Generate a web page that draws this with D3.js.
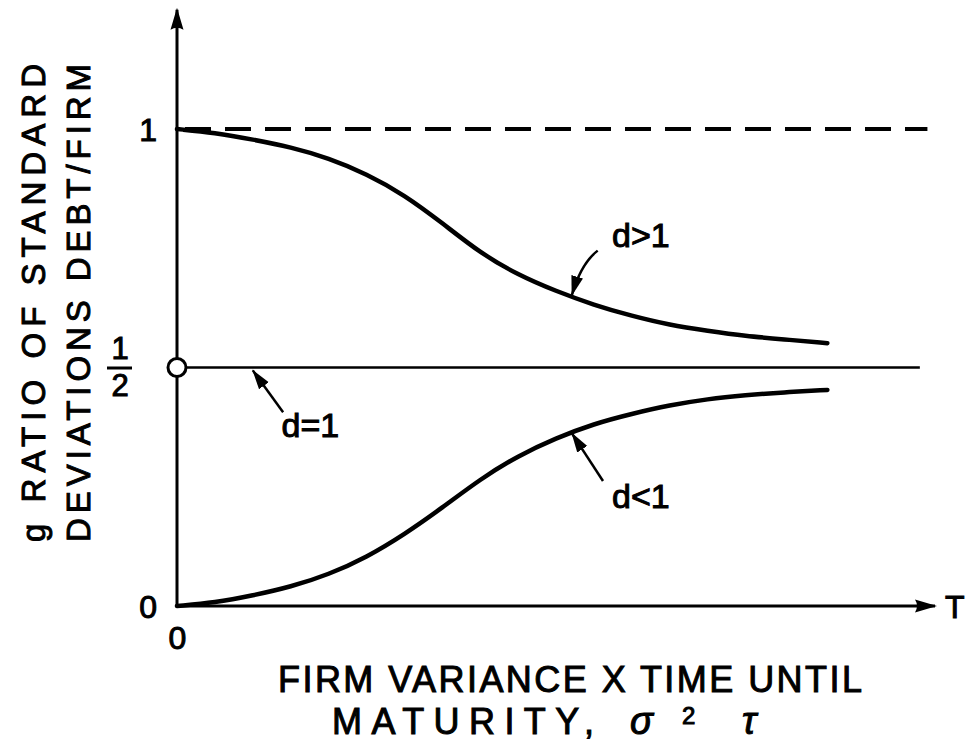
<!DOCTYPE html>
<html>
<head>
<meta charset="utf-8">
<script src="https://cdn.jsdelivr.net/npm/d3@7"></script>
<style>
body { margin: 0; background: #fff; }
text { font-family: "Liberation Sans", Arial, sans-serif; fill: #000; }
</style>
</head>
<body>
<div id="chart"></div>
<script>
// whole svg
const SVG_WIDTH = 970;
const SVG_HEIGHT = 745;
const TEXT_STROKE = 1;

// data (T in arbitrary units, g = ratio of standard deviations)
const tValues = [0, 0.5, 1, 1.5, 2, 2.5, 3, 3.5, 4, 4.5, 5, 5.5, 6, 6.5, 7, 7.5, 8, 8.58];
const gAbove  = [1.000, 0.992, 0.978, 0.962, 0.939, 0.906, 0.862, 0.803, 0.740, 0.694, 0.660, 0.631, 0.608, 0.589, 0.577, 0.566, 0.559, 0.551]; // d>1
const gBelow  = [0.000, 0.007, 0.022, 0.040, 0.066, 0.102, 0.150, 0.206, 0.266, 0.315, 0.352, 0.382, 0.403, 0.421, 0.434, 0.442, 0.448, 0.453]; // d<1
const gEqual = 0.5;      // d=1
const gLimit = 1;        // dashed asymptote
const yTicks = [0, 0.5, 1];
const xTicks = [0];
const yTitle = ['g RATIO OF STANDARD', 'DEVIATIONS DEBT/FIRM'];
const xTitle = ['FIRM VARIANCE X TIME UNTIL', 'MATURITY,', 'σ', '2', 'τ'];
const axisEndLabel = 'T';
const curveNames = ['d>1', 'd=1', 'd<1'];

// annotation anchors in data units: label, arrow tail, arrow tip
const notes = [
    {name: curveNames[0], label: [5.74, 0.752], tail: [5.55, 0.745], bend: [5.33, 0.718], tip: [5.21, 0.652]},
    {name: curveNames[1], label: [1.38, 0.354], tail: [1.40, 0.406], bend: null,          tip: [1.00, 0.494]},
    {name: curveNames[2], label: [5.74, 0.205], tail: [5.62, 0.262], bend: null,          tip: [5.21, 0.362]},
];

// scales
const x = d3.scaleLinear().domain([0, 10]).range([177, 935]);
const y = d3.scaleLinear().domain([0, 1]).range([606, 129]);

const svg = d3.select('#chart')
    .append('svg')
    .attr('width', SVG_WIDTH)
    .attr('height', SVG_HEIGHT)
;

// arrow heads
const defs = svg.append('defs');
defs.append('marker')
    .attr('id', 'head_big')
    .attr('markerUnits', 'userSpaceOnUse')
    .attr('viewBox', '0 0 22 14')
    .attr('refX', 20).attr('refY', 7)
    .attr('markerWidth', 22).attr('markerHeight', 14)
    .attr('orient', 'auto')
    .append('path')
    .attr('d', 'M0,0.5 L22,7 L0,13.5 Q4,7 0,0.5 Z')
    .attr('fill', '#000')
;
defs.append('marker')
    .attr('id', 'head_small')
    .attr('markerUnits', 'userSpaceOnUse')
    .attr('viewBox', '0 0 20 13')
    .attr('refX', 19).attr('refY', 6.5)
    .attr('markerWidth', 20).attr('markerHeight', 13)
    .attr('orient', 'auto')
    .append('path')
    .attr('d', 'M0,0.5 L20,6.5 L0,12.5 Z')
    .attr('fill', '#000')
;

// axes lines with arrows
svg.append('line')
    .attr('x1', x(0)).attr('y1', y(0))
    .attr('x2', x(0)).attr('y2', y(1.25))
    .attr('stroke', '#000').attr('stroke-width', 3)
    .attr('marker-end', 'url(#head_big)')
;
svg.append('line')
    .attr('x1', x(0)).attr('y1', y(0))
    .attr('x2', x(10)).attr('y2', y(0))
    .attr('stroke', '#000').attr('stroke-width', 3)
    .attr('marker-end', 'url(#head_big)')
;

// y ticks (labels only)
const yAxis = svg.append('g')
    .attr('transform', `translate(${x(0) - 20},0)`)
    .call(d3.axisLeft(y).tickValues(yTicks).tickSize(0).tickPadding(0).tickFormat(d => d === 0.5 ? '' : d3.format('d')(d)))
;
yAxis.select('.domain').remove();
yAxis.selectAll('text')
    .attr('font-size', 32)
    .attr('font-family', '"Liberation Sans", Arial, sans-serif')
    .attr('fill', '#000')
    .attr('stroke', '#000').attr('stroke-width', TEXT_STROKE)
    .attr('dy', '0.36em')
;
// 1/2 as a stacked fraction
const half = yAxis.selectAll('.tick').filter(d => d === 0.5);
half.append('line')
    .attr('x1', -50).attr('x2', -25)
    .attr('y1', 0).attr('y2', 0)
    .attr('stroke', '#000').attr('stroke-width', 3)
;
half.append('text').text('1')
    .attr('x', -37).attr('y', -9)
    .attr('text-anchor', 'middle')
    .attr('font-size', 31).attr('stroke', '#000').attr('stroke-width', TEXT_STROKE)
;
half.append('text').text('2')
    .attr('x', -37).attr('y', 28)
    .attr('text-anchor', 'middle')
    .attr('font-size', 31).attr('stroke', '#000').attr('stroke-width', TEXT_STROKE)
;

// x tick label
const xAxis = svg.append('g')
    .attr('transform', `translate(0,${y(0) + 18})`)
    .call(d3.axisBottom(x).tickValues(xTicks).tickSize(0).tickPadding(0).tickFormat(d3.format('d')))
;
xAxis.select('.domain').remove();
xAxis.selectAll('text')
    .attr('font-size', 32)
    .attr('font-family', '"Liberation Sans", Arial, sans-serif')
    .attr('fill', '#000')
    .attr('stroke', '#000').attr('stroke-width', TEXT_STROKE)
    .attr('dy', '0.78em')
;

// T at end of x axis
svg.append('text')
    .text(axisEndLabel)
    .attr('x', x(10) + 10).attr('y', y(0) + 12)
    .attr('font-size', 32).attr('stroke', '#000').attr('stroke-width', TEXT_STROKE)
;

// dashed asymptote
svg.append('line')
    .attr('x1', x(0)).attr('x2', x(9.9))
    .attr('y1', y(gLimit)).attr('y2', y(gLimit))
    .attr('stroke', '#000').attr('stroke-width', 4)
    .attr('stroke-dasharray', '26,14')
    .attr('stroke-dashoffset', -8)
;

// d=1 line
svg.append('line')
    .attr('x1', x(0)).attr('x2', x(9.8))
    .attr('y1', y(gEqual)).attr('y2', y(gEqual))
    .attr('stroke', '#000').attr('stroke-width', 2.5)
;

// curves
const line = d3.line()
    .x(d => x(d[0]))
    .y(d => y(d[1]))
    .curve(d3.curveBasis)
;
[gAbove, gBelow].forEach(series => {
    svg.append('path')
        .datum(tValues.map((t, i) => [t, series[i]]))
        .attr('d', line)
        .attr('fill', 'none')
        .attr('stroke', '#000')
        .attr('stroke-width', 4.5)
        .attr('stroke-linecap', 'round')
    ;
});

// open circle at g = 1/2
svg.append('circle')
    .attr('cx', x(0)).attr('cy', y(gEqual))
    .attr('r', 9)
    .attr('fill', '#fff')
    .attr('stroke', '#000').attr('stroke-width', 3)
;

// annotations
notes.forEach(n => {
    const p = d3.path();
    p.moveTo(x(n.tail[0]), y(n.tail[1]));
    if (n.bend) {
        p.quadraticCurveTo(x(n.bend[0]), y(n.bend[1]), x(n.tip[0]), y(n.tip[1]));
    } else {
        p.lineTo(x(n.tip[0]), y(n.tip[1]));
    }
    svg.append('path')
        .attr('d', p.toString())
        .attr('fill', 'none')
        .attr('stroke', '#000').attr('stroke-width', 2.5)
        .attr('marker-end', 'url(#head_small)')
    ;
    svg.append('text')
        .text(n.name)
        .attr('x', x(n.label[0])).attr('y', y(n.label[1]))
        .attr('font-size', 34)
        .attr('stroke', '#000').attr('stroke-width', TEXT_STROKE)
    ;
});

// y title (rotated, two lines)
const yTitleG = svg.append('g')
    .attr('transform', 'translate(0,303) rotate(-90)');
yTitle.forEach((s, i) => {
    yTitleG.append('text')
        .text(s)
        .attr('x', 0).attr('y', 45 + i * 45)
        .attr('text-anchor', 'middle')
        .attr('font-size', 33)
        .attr('textLength', 478)
        .attr('lengthAdjust', 'spacing')
        .attr('stroke', '#000').attr('stroke-width', TEXT_STROKE)
    ;
});

// x title
svg.append('text')
    .text(xTitle[0])
    .attr('x', 570).attr('y', 692)
    .attr('text-anchor', 'middle')
    .attr('font-size', 36)
    .attr('textLength', 584)
    .attr('lengthAdjust', 'spacing')
    .attr('stroke', '#000').attr('stroke-width', TEXT_STROKE)
;
const xTitle2 = svg.append('g').attr('stroke', '#000').attr('stroke-width', TEXT_STROKE);
xTitle2.append('text').text(xTitle[1])
    .attr('x', 332).attr('y', 734)
    .attr('font-size', 36)
    .attr('textLength', 262)
    .attr('lengthAdjust', 'spacing')
;
xTitle2.append('text').text(xTitle[2])
    .attr('x', 630).attr('y', 734)
    .attr('font-size', 38).attr('font-style', 'italic')
;
xTitle2.append('text').text(xTitle[3])
    .attr('x', 682).attr('y', 724)
    .attr('font-size', 24)
;
xTitle2.append('text').text(xTitle[4])
    .attr('x', 742).attr('y', 734)
    .attr('font-size', 38).attr('font-style', 'italic')
;
</script>
</body>
</html>
